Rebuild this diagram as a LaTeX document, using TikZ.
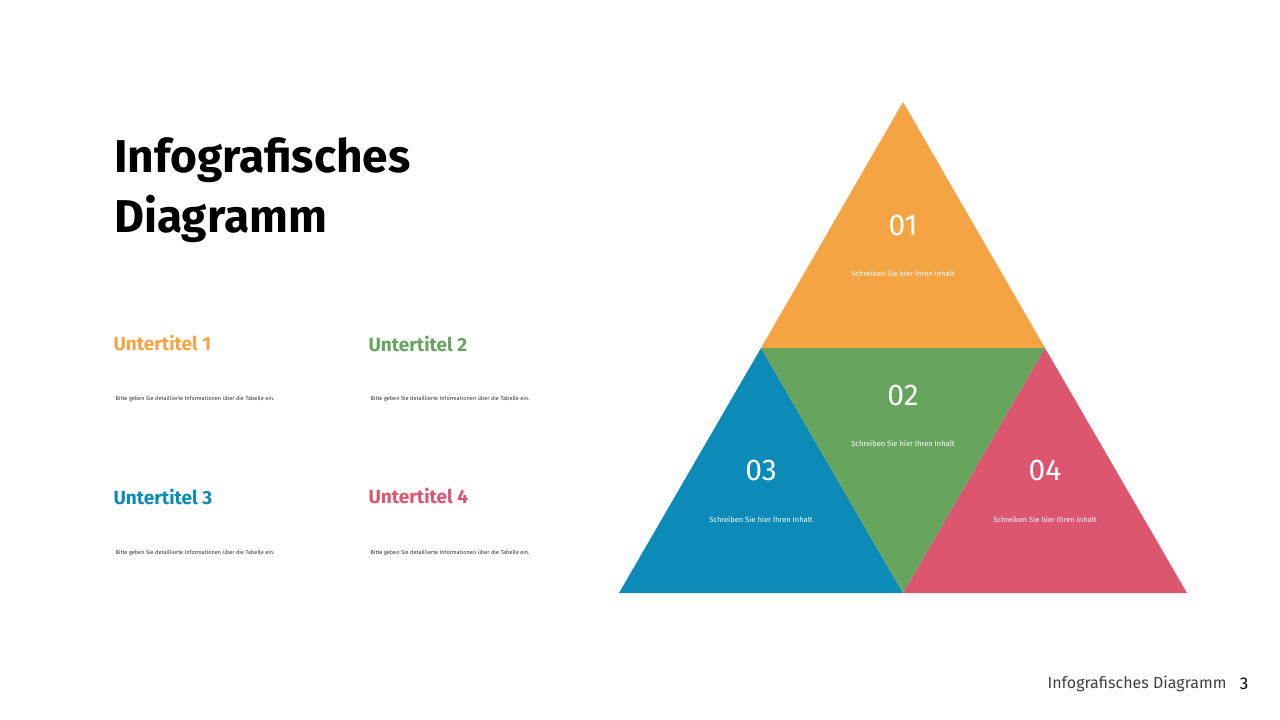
\documentclass[tikz,border=0pt]{standalone}
\usepackage{fontspec}
\setmainfont{Fira Sans}
\definecolor{cor}{HTML}{F4A443}
\definecolor{cgr}{HTML}{67A55E}
\definecolor{cbl}{HTML}{0C8AB8}
\definecolor{cpk}{HTML}{DC5670}
\begin{document}
\begin{tikzpicture}[x=1pt,y=-1pt,
  sub/.style={anchor=west,font=\fontsize{19}{20}\selectfont\bfseries},
  desc/.style={anchor=west,font=\fontsize{5.6}{6}\selectfont,text=black!80},
  num/.style={text=white,font=\fontsize{30}{32}\selectfont},
  inh/.style={text=white,font=\fontsize{7.5}{8}\selectfont}]
\useasboundingbox[fill=white] (0,0) rectangle (1280,720);
\node[anchor=north west,align=left,font=\fontsize{46}{60}\selectfont\bfseries,inner sep=0] (t) at (114,137) {Infografisches\\Diagramm};
\node[sub,text=cor] (s1) at (110,343) {Untertitel 1};
\node[sub,text=cgr] (s2) at (365,344) {Untertitel 2};
\node[sub,text=cbl] (s3) at (110,497) {Untertitel 3};
\node[sub,text=cpk] (s4) at (365,496) {Untertitel 4};
\node[desc] (d1) at (112,399) {Bitte geben Sie detaillierte Informationen über die Tabelle ein.};
\node[desc] (d2) at (367,399) {Bitte geben Sie detaillierte Informationen über die Tabelle ein.};
\node[desc] (d3) at (112,553) {Bitte geben Sie detaillierte Informationen über die Tabelle ein.};
\node[desc] (d4) at (367,553) {Bitte geben Sie detaillierte Informationen über die Tabelle ein.};
\fill[cor] (903,102) -- (1045,348) -- (761,348) -- cycle;
\fill[cbl] (761,348) -- (903,593) -- (619,593) -- cycle;
\fill[cpk] (1045,348) -- (1187,593) -- (903,593) -- cycle;
\fill[cgr] (761,348) -- (1045,348) -- (903,593) -- cycle;
\node[num] (n1) at (903,225) {01};
\node[inh] (i1) at (903,274) {Schreiben Sie hier Ihren Inhalt};
\node[num] (n2) at (903,395) {02};
\node[inh] (i2) at (903,444) {Schreiben Sie hier Ihren Inhalt};
\node[num] (n3) at (761,470) {03};
\node[inh] (i3) at (761,520) {Schreiben Sie hier Ihren Inhalt};
\node[num] (n4) at (1045,470) {04};
\node[inh] (i4) at (1045,520) {Schreiben Sie hier Ihren Inhalt};
\node[anchor=east,font=\fontsize{16}{18}\selectfont,text=black!75] (f) at (1230,684) {Infografisches Diagramm};
\node[anchor=east,font=\fontsize{17}{18}\selectfont] (p) at (1252,684) {3};
\end{tikzpicture}
\end{document}
